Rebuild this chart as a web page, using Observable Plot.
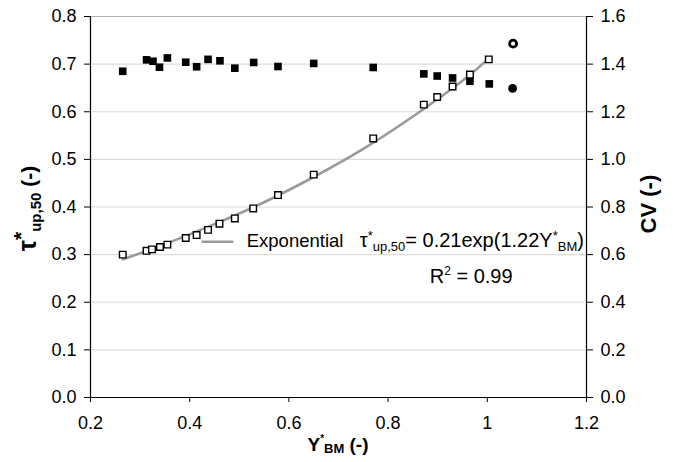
<!DOCTYPE html>
<html>
<head>
<meta charset="utf-8">
<script src="https://cdn.jsdelivr.net/npm/d3@7"></script>
<script src="https://cdn.jsdelivr.net/npm/@observablehq/plot@0.6"></script>
<style>
  html, body { margin: 0; padding: 0; background: white; }
  #chart svg { display: block; }
</style>
</head>
<body>
<div id="chart"></div>
<script>
// tau*_up,50 (open squares), left axis
const tauX = [0.265, 0.313, 0.324, 0.340, 0.355, 0.392, 0.414, 0.437, 0.460, 0.491, 0.528, 0.578, 0.650, 0.770, 0.872, 0.899, 0.930, 0.965, 1.003];
const tauY = [0.300, 0.308, 0.311, 0.316, 0.321, 0.335, 0.341, 0.352, 0.365, 0.376, 0.397, 0.425, 0.468, 0.544, 0.615, 0.631, 0.653, 0.678, 0.710];
// extra tau point drawn as hollow circle
const tauExtraX = [1.052];
const tauExtraY = [0.743];
// CV (filled squares), right axis
const cvX = [0.265, 0.313, 0.326, 0.339, 0.355, 0.392, 0.414, 0.437, 0.461, 0.491, 0.529, 0.578, 0.650, 0.770, 0.872, 0.899, 0.930, 0.965, 1.004];
const cvY = [1.370, 1.418, 1.412, 1.387, 1.426, 1.408, 1.389, 1.420, 1.414, 1.383, 1.407, 1.390, 1.403, 1.386, 1.359, 1.350, 1.342, 1.328, 1.317];
// extra CV point drawn as filled circle
const cvExtraX = [1.051];
const cvExtraY = [1.298];
// exponential fit line
const fitX = [0.265, 0.35, 0.45, 0.55, 0.65, 0.75, 0.85, 0.95, 1.003];
const fitY = [0.290, 0.322, 0.364, 0.410, 0.463, 0.522, 0.590, 0.665, 0.712];
// ticks
const xTicks = [0.2, 0.4, 0.6, 0.8, 1.0, 1.2];
const xTickLabels = ["0.2", "0.4", "0.6", "0.8", "1", "1.2"];
const leftTicks = [0, 0.1, 0.2, 0.3, 0.4, 0.5, 0.6, 0.7, 0.8];
const rightTicks = [0, 0.2, 0.4, 0.6, 0.8, 1.0, 1.2, 1.4, 1.6];
const cvToLeft = 0.5; // CV axis maps 1.6 -> 0.8

const tau = tauX.map((x, i) => ({x, y: tauY[i]}));
const tauExtra = tauExtraX.map((x, i) => ({x, y: tauExtraY[i]}));
const cv = cvX.map((x, i) => ({x, cv: cvY[i]}));
const cvExtra = cvExtraX.map((x, i) => ({x, cv: cvExtraY[i]}));
const fit = fitX.map((x, i) => ({x, y: fitY[i]}));

const FONT = "'Liberation Sans', Arial, Helvetica, sans-serif";
const TICKFS = 18;

const plot = Plot.plot({
  width: 673,
  height: 462,
  marginLeft: 90,
  marginRight: 87,
  marginTop: 16,
  marginBottom: 65,
  style: {fontFamily: FONT, fontSize: TICKFS + "px", color: "black", background: "white"},
  x: {domain: [0.2, 1.2]},
  y: {domain: [0, 0.8]},
  marks: [
    Plot.gridY(leftTicks.slice(1, -1), {stroke: "#dcdcdc", strokeOpacity: 1, strokeWidth: 1.2}),
    Plot.gridY(leftTicks.slice(-1), {stroke: "#b4b4b4", strokeOpacity: 1, strokeWidth: 1.2}),
    Plot.axisY(leftTicks, {anchor: "left", tickFormat: d => d.toFixed(1), tickSize: 6, tickPadding: 8, label: null, fontSize: TICKFS}),
    Plot.axisY(rightTicks.map(v => v * cvToLeft), {anchor: "right", tickFormat: (d, i) => rightTicks[i].toFixed(1), tickSize: 6, tickPadding: 8, label: null, fontSize: TICKFS}),
    Plot.axisX(xTicks, {tickFormat: (d, i) => xTickLabels[i], tickSize: 5, tickPadding: 14, label: null, fontSize: TICKFS}),
    Plot.ruleX([0.2, 1.2], {stroke: "black", strokeWidth: 1.2}),
    Plot.ruleY([0], {stroke: "black", strokeWidth: 1.2}),
    Plot.line(fit, {x: "x", y: "y", stroke: "#9a9a9a", strokeWidth: 2.6, curve: "natural"}),
    Plot.dot(cv, {x: "x", y: d => d.cv * cvToLeft, symbol: "square", fill: "black", r: 4.3}),
    Plot.dot(cvExtra, {x: "x", y: d => d.cv * cvToLeft, symbol: "circle", fill: "black", r: 4.4}),
    Plot.dot(tau, {x: "x", y: "y", symbol: "square", fill: "white", stroke: "black", strokeWidth: 1.4, r: 3.7}),
    Plot.dot(tauExtra, {x: "x", y: "y", symbol: "circle", fill: "white", stroke: "black", strokeWidth: 2.8, r: 3.5})
  ]
});

document.getElementById("chart").appendChild(plot);

const sx = plot.scale("x"), sy = plot.scale("y");
const svg = d3.select(plot);

// Legend
const lx0 = sx.apply(0.425), lx1 = sx.apply(0.489), ly = sy.apply(0.326);
svg.append("line").attr("x1", lx0).attr("x2", lx1).attr("y1", ly).attr("y2", ly)
  .attr("stroke", "#9a9a9a").attr("stroke-width", 2.6);
svg.append("text").attr("x", sx.apply(0.516)).attr("y", sy.apply(0.315))
  .attr("text-anchor", "start")
  .attr("font-family", FONT).attr("font-size", 18.5).attr("fill", "black")
  .text("Exponential");

// Equation
const eq = svg.append("text").attr("x", sx.apply(0.744)).attr("y", sy.apply(0.315))
  .attr("text-anchor", "start")
  .attr("font-family", FONT).attr("font-size", 20).attr("fill", "black");
eq.append("tspan").text("τ");
eq.append("tspan").attr("dy", -7).attr("font-size", 13).text("*");
eq.append("tspan").attr("dy", 11).attr("font-size", 13).text("up,50");
eq.append("tspan").attr("dy", -4).text("= 0.21exp(1.22Y");
eq.append("tspan").attr("dy", -7).attr("font-size", 13).text("*");
eq.append("tspan").attr("dy", 11).attr("font-size", 13).text("BM");
eq.append("tspan").attr("dy", -4).text(")");

const r2 = svg.append("text").attr("x", sx.apply(0.885)).attr("y", sy.apply(0.239))
  .attr("text-anchor", "start")
  .attr("font-family", FONT).attr("font-size", 20).attr("fill", "black");
r2.append("tspan").text("R");
r2.append("tspan").attr("dy", -8).attr("font-size", 12).text("2");
r2.append("tspan").attr("dy", 8).text(" = 0.99");

// Left axis title
const lt = svg.append("text")
  .attr("transform", `translate(36, ${sy.apply(0.4) + 2}) rotate(-90)`)
  .attr("text-anchor", "middle")
  .attr("font-family", FONT).attr("font-size", 21).attr("font-weight", "bold").attr("fill", "black");
lt.append("tspan").attr("font-size", 25).text("τ");
lt.append("tspan").attr("dy", -8).attr("font-size", 21).text("*");
lt.append("tspan").attr("dy", 13).attr("font-size", 15).text("up,50");
lt.append("tspan").attr("dy", -5).text(" (-)");

// Right axis title
svg.append("text")
  .attr("transform", `translate(656, ${sy.apply(0.405)}) rotate(-90)`)
  .attr("text-anchor", "middle")
  .attr("font-family", FONT).attr("font-size", 22).attr("font-weight", "bold").attr("fill", "black")
  .text("CV (-)");

// X axis title
const xt = svg.append("text")
  .attr("x", sx.apply(0.7)).attr("y", 451)
  .attr("text-anchor", "middle")
  .attr("font-family", FONT).attr("font-size", 19).attr("font-weight", "bold").attr("fill", "black");
xt.append("tspan").text("Y");
xt.append("tspan").attr("dy", -9).attr("font-size", 10).text("*");
xt.append("tspan").attr("dy", 11).attr("font-size", 13).text("BM");
xt.append("tspan").attr("dy", -2).text(" (-)");
</script>
</body>
</html>
